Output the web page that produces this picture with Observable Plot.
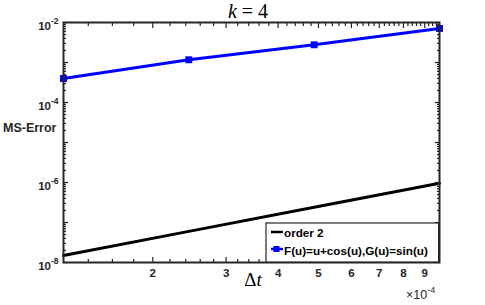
<!DOCTYPE html>
<html><head><meta charset="utf-8">
<script src="https://cdn.jsdelivr.net/npm/d3@7"></script>
<script src="https://cdn.jsdelivr.net/npm/@observablehq/plot@0.6"></script>
<style>body{margin:0;background:#fff}</style>
</head><body><div id="chart"></div>
<script>
// ---- data ----
const dt = [1/8192, 1/4096, 1/2048, 1/1024];
const errF = [3.98e-4, 1.17e-3, 2.77e-3, 7.1e-3];
const errOrder2 = [1.5e-8, 6.0e-8, 2.4e-7, 9.6e-7];
const xTickLabels = [2, 3, 4, 5, 6, 7, 8, 9];   // × 10^-4
const yLabelExps = [-2, -4, -6, -8];
const yDecadeExps = [-8, -7, -6, -5, -4, -3, -2];
const legendLabels = ["order 2", "F(u)=u+cos(u),G(u)=sin(u)"];
const titleText = ["k", " = 4"];

const rows = dt.map((d, i) => ({dt: d, err: errF[i], ord: errOrder2[i]}));

// tick positions
const xMajor = xTickLabels.map(v => v * 1e-4);
const xMinor = [];
for (let v = 14; v <= 96; v += 2) if (v % 10 !== 0) xMinor.push(v * 1e-5);
const yMajor = yDecadeExps.map(e => Math.pow(10, e));
const yMinor = [];
for (const e of yDecadeExps.slice(0, -1)) for (let m = 2; m <= 9; m++) yMinor.push(m * Math.pow(10, e));

const AX = "#262626";
const BLUE = "#0000ff";
const bold = {fontWeight: "bold", fill: AX};

const chart = Plot.plot({
  width: 485, height: 305,
  marginLeft: 63, marginRight: 46, marginTop: 22, marginBottom: 43,
  style: {fontFamily: "Liberation Sans, Arial, sans-serif", color: AX, background: "#fff"},
  x: {type: "log", domain: [1/8192, 1/1024]},
  y: {type: "log", domain: [1e-8, 1e-2]},
  marks: [
    Plot.line(rows, {x: "dt", y: "ord", stroke: "#000", strokeWidth: 3}),
    Plot.line(rows, {x: "dt", y: "err", stroke: BLUE, strokeWidth: 3}),
    Plot.dot(rows, {x: "dt", y: "err", symbol: "square", r: 3.9, fill: BLUE, stroke: "none"}),
    // inward ticks on all four sides
    Plot.axisX({anchor: "bottom", ticks: xMajor, tickSize: -5, tickFormat: () => "", label: null, strokeWidth: 1.2}),
    Plot.axisX({anchor: "bottom", ticks: xMinor, tickSize: -3, tickFormat: () => "", label: null, strokeWidth: 1.2}),
    Plot.axisX({anchor: "top", ticks: xMajor, tickSize: -5, tickFormat: () => "", label: null, strokeWidth: 1.2}),
    Plot.axisX({anchor: "top", ticks: xMinor, tickSize: -3, tickFormat: () => "", label: null, strokeWidth: 1.2}),
    Plot.axisY({anchor: "left", ticks: yMajor, tickSize: -5, tickFormat: () => "", label: null, strokeWidth: 1.2}),
    Plot.axisY({anchor: "left", ticks: yMinor, tickSize: -3, tickFormat: () => "", label: null, strokeWidth: 1.2}),
    Plot.axisY({anchor: "right", ticks: yMajor, tickSize: -5, tickFormat: () => "", label: null, strokeWidth: 1.2}),
    Plot.axisY({anchor: "right", ticks: yMinor, tickSize: -3, tickFormat: () => "", label: null, strokeWidth: 1.2}),
    Plot.frame({stroke: AX, strokeWidth: 2}),
    // x tick labels
    Plot.text(xTickLabels, {x: d => d * 1e-4, frameAnchor: "bottom", dy: 14, text: d => String(d), fontSize: 11.5, ...bold}),
    // y tick labels 10^e
    Plot.text(yLabelExps, {y: d => Math.pow(10, d), frameAnchor: "left", dx: -12.5, dy: 4, text: () => "10", textAnchor: "end", fontSize: 11.5, ...bold}),
    Plot.text(yLabelExps, {y: d => Math.pow(10, d), frameAnchor: "left", dx: -12.5, dy: -1, text: d => String(d), textAnchor: "start", fontSize: 8.5, ...bold})
  ]
});
document.getElementById("chart").appendChild(chart);

const svg = d3.select(chart);
const SANS = "Liberation Sans, Arial, sans-serif";
const SERIF = "Liberation Serif, serif";
// title
const t = svg.append("text").attr("x", 248).attr("y", 18).attr("text-anchor", "middle")
  .style("font-family", SERIF).style("font-size", "20px").attr("fill", "#000");
t.append("tspan").style("font-style", "italic").text(titleText[0]);
t.append("tspan").text("\u00a0=\u00a04");
// x label
const xl = svg.append("text").attr("x", 253).attr("y", 286).attr("text-anchor", "middle")
  .style("font-family", SERIF).style("font-size", "19px").attr("fill", "#000");
xl.append("tspan").text("\u0394");
xl.append("tspan").style("font-style", "italic").text("t");
// ×10^-4
const xm = svg.append("text").attr("x", 406).attr("y", 299).attr("text-anchor", "start")
  .style("font-family", SANS).style("font-size", "12.5px").attr("fill", AX);
xm.append("tspan").text("\u00d710");
xm.append("tspan").attr("dy", -6).style("font-size", "9px").text("-4");
// y label
svg.append("text").attr("x", 3).attr("y", 132).attr("text-anchor", "start")
  .style("font-family", SANS).style("font-size", "12.5px").style("font-weight", "bold")
  .attr("fill", AX).text("MS-Error");
// legend
const lg = svg.append("g");
lg.append("rect").attr("x", 266).attr("y", 223).attr("width", 173).attr("height", 39)
  .attr("fill", "#fff").attr("stroke", AX).attr("stroke-width", 1.2);
lg.append("path").attr("d", "M271,232H283").attr("stroke", "#000").attr("stroke-width", 2.5).attr("fill", "none");
lg.append("path").attr("d", "M271,249H283").attr("stroke", BLUE).attr("stroke-width", 2.5).attr("fill", "none");
lg.append("rect").attr("x", 273.5).attr("y", 246).attr("width", 6).attr("height", 6).attr("fill", BLUE);
legendLabels.forEach((s, i) => {
  lg.append("text").attr("x", 284).attr("y", 237 + i * 17.5).attr("text-anchor", "start")
    .style("font-family", SANS).style("font-size", "11.7px").style("font-weight", "bold")
    .attr("fill", "#000").text(s);
});
// redraw right-edge frame line above legend
svg.append("path").attr("d", "M439,223V262").attr("stroke", AX).attr("stroke-width", 2);
</script>
</body></html>
